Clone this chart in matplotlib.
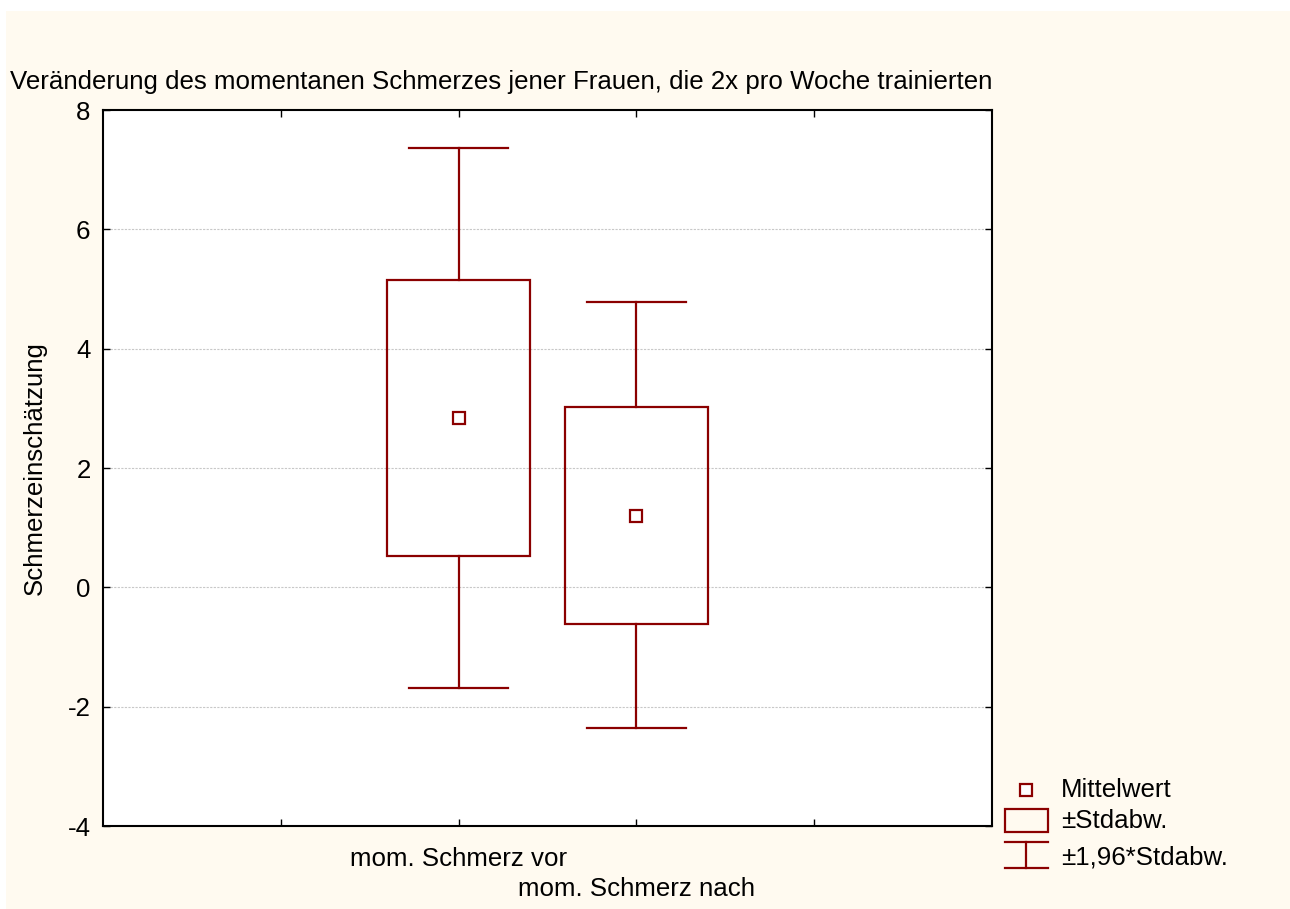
import matplotlib
matplotlib.use("Agg")
import matplotlib.pyplot as plt
from matplotlib.patches import Rectangle
from matplotlib.lines import Line2D

plt.rcParams['font.family'] = ['Liberation Sans', 'DejaVu Sans']

# Data
categories = ["mom. Schmerz vor", "mom. Schmerz nach"]
means = [2.83, 1.19]
sd_low = [0.53, -0.61]
sd_high = [5.15, 3.02]
ci_low = [-1.69, -2.35]
ci_high = [7.37, 4.79]
positions = [2, 3]
yticks = [-4, -2, 0, 2, 4, 6, 8]
title = "Veränderung des momentanen Schmerzes jener Frauen, die 2x pro Woche trainierten"
ylabel = "Schmerzeinschätzung"
legend_labels = ["Mittelwert", "±Stdabw.", "±1,96*Stdabw."]

W, H = 1290, 909
RED = '#8b0000'
CREAM = '#fffaf0'
FS = 18.6

fig = plt.figure(figsize=(W / 100, H / 100), dpi=100)
fig.patch.set_facecolor('white')
fig.add_artist(Rectangle((6 / W, 0), 1 - 6 / W, 1 - 11 / H, transform=fig.transFigure,
                         facecolor=CREAM, edgecolor='none', zorder=-10))

def fx(px):
    return px / W

def fy(py):
    return 1 - py / H

ax = fig.add_axes([fx(103), fy(826), fx(992) - fx(103), fy(110) - fy(826)])
ax.set_facecolor('white')
ax.set_xlim(0, 5)
ax.set_ylim(-4, 8)
ax.set_yticks(yticks)
ax.set_yticklabels([str(t) for t in yticks])
ax.xaxis.remove_overlapping_locs = False
ax.set_xticks([1, 2, 3, 4])
ax.set_xticklabels(['', categories[0], '', ''])
ax.set_xticks([positions[1]], minor=True)
ax.set_xticklabels([categories[1]], minor=True)
ax.tick_params(direction='in', length=5, width=1, top=True, right=True,
               labelsize=FS, colors='black')
ax.tick_params(axis='y', pad=9)
ax.tick_params(axis='x', which='major', pad=15)
ax.tick_params(axis='x', which='minor', length=0, pad=36.6, labelsize=FS)
for s in ax.spines.values():
    s.set_linewidth(1.5)
    s.set_color('black')

for t in [-2, 0, 2, 4, 6]:
    ax.axhline(t, color='#c8c8c8', lw=0.8, ls=(0, (2, 1.2)), zorder=0)

box_w = 0.8
cap_w = 0.56
for x, m, lo, hi, clo, chi in zip(positions, means, sd_low, sd_high, ci_low, ci_high):
    ax.add_patch(Rectangle((x - box_w / 2, lo), box_w, hi - lo, facecolor='none',
                           edgecolor=RED, lw=1.6, zorder=3))
    ax.plot([x, x], [hi, chi], color=RED, lw=1.6, zorder=3)
    ax.plot([x, x], [clo, lo], color=RED, lw=1.6, zorder=3)
    ax.plot([x - cap_w / 2, x + cap_w / 2], [chi, chi], color=RED, lw=1.6, zorder=3)
    ax.plot([x - cap_w / 2, x + cap_w / 2], [clo, clo], color=RED, lw=1.6, zorder=3)
    ax.plot([x], [m], marker='s', ms=8.5, mfc='white', mec=RED, mew=1.6, zorder=4)

fig.text(fx(35), fy(468), ylabel, rotation=90, ha='center', va='center', fontsize=FS)
fig.text(fx(10), fy(82), title, ha='left', va='center', fontsize=FS)

# Legend (drawn manually)
fig.add_artist(Line2D([fx(1026)], [fy(790)], marker='s', ms=8.5, mfc='white', mec=RED,
                      mew=1.6, transform=fig.transFigure))
fig.add_artist(Rectangle((fx(1005), fy(832)), fx(1048) - fx(1005), fy(809) - fy(832),
                         facecolor='none', edgecolor=RED, lw=1.6, transform=fig.transFigure))
fig.add_artist(Line2D([fx(1005), fx(1048)], [fy(842), fy(842)], color=RED, lw=1.6,
                      transform=fig.transFigure))
fig.add_artist(Line2D([fx(1005), fx(1048)], [fy(868), fy(868)], color=RED, lw=1.6,
                      transform=fig.transFigure))
fig.add_artist(Line2D([fx(1026), fx(1026)], [fy(842), fy(868)], color=RED, lw=1.6,
                      transform=fig.transFigure))
for lbl, py in zip(legend_labels, [790, 821, 857]):
    fig.text(fx(1061), fy(py), lbl, ha='left', va='center', fontsize=FS)

fig.savefig('out.png', dpi=100, facecolor=fig.get_facecolor())
